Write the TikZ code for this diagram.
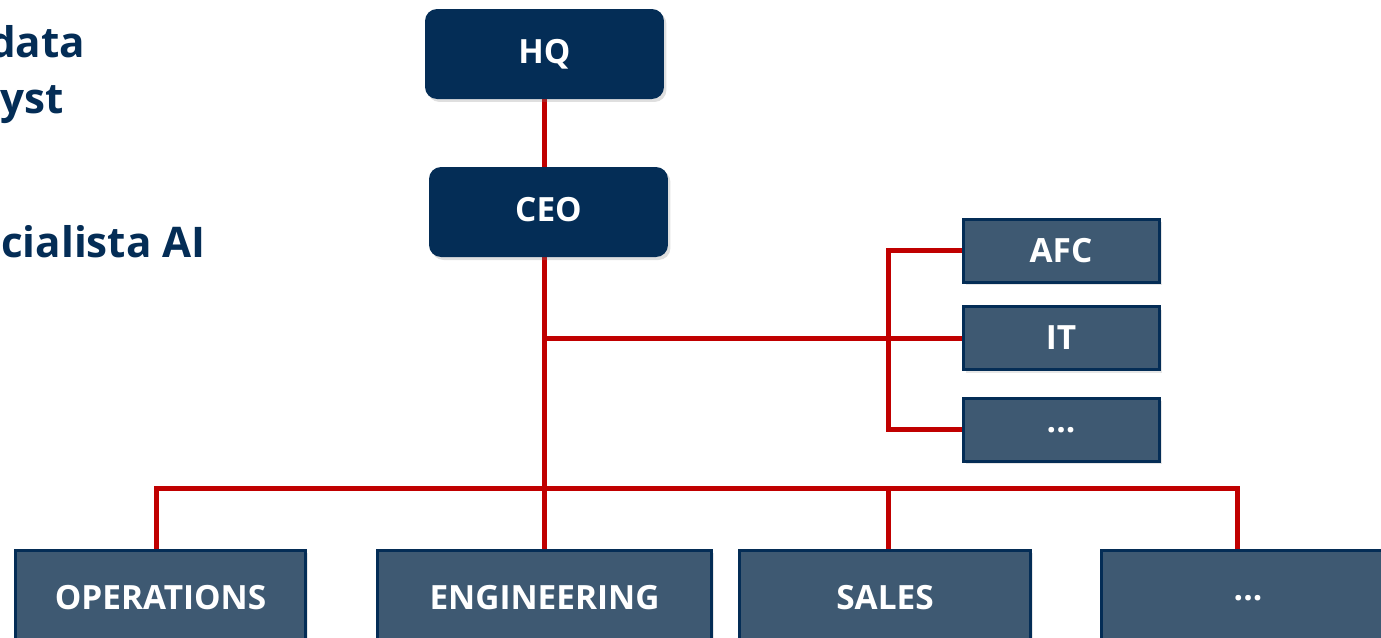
\documentclass[tikz,border=0pt]{standalone}
\usepackage{fontspec}
\setmainfont{Open Sans}
\usetikzlibrary{shadows,backgrounds}

\definecolor{navy}{RGB}{4,45,86}
\definecolor{slate}{RGB}{62,89,114}
\definecolor{linkred}{RGB}{192,0,0}

\begin{document}
\begin{tikzpicture}[x=0.02cm,y=-0.02cm,
  headbox/.style={rounded corners=0.24cm, fill=navy, text=white,
    minimum width=4.78cm, minimum height=1.8cm, text depth=0.1cm,
    font=\fontsize{19}{22}\selectfont\bfseries,
    drop shadow={shadow xshift=0.05cm, shadow yshift=-0.06cm, opacity=0.25}},
  unitbox/.style={fill=slate, draw=navy, line width=0.06cm, text=white,
    minimum width=3.92cm, minimum height=1.26cm,
    font=\fontsize{19}{22}\selectfont\bfseries,
    drop shadow={shadow xshift=0.05cm, shadow yshift=-0.06cm, opacity=0.2}},
  deptbox/.style={unitbox, minimum height=1.9cm},
  link/.style={draw=linkred, line width=0.1cm},
  side/.style={text=navy, anchor=base west, font=\fontsize{24}{28}\selectfont\bfseries}]
\clip (0,0) rectangle (1381,637);
\useasboundingbox (0,0) rectangle (1381,637);

% text cut off at the left edge
\node[side] (t1) at (-17,57) {data};
\node[side] (t2) at (-6,113) {yst};
\node[side] (t3) at (-5,257) {cialista AI};

% top of the chart
\node[headbox] (hq) at (544.5,54) {HQ};
\node[headbox] (ceo) at (548.5,212) {CEO};

% staff units
\node[unitbox] (afc) at (1061,250.5) {AFC};
\node[unitbox] (it) at (1061,338) {IT};
\node[unitbox, text depth=-0.12cm] (staff) at (1061,429.5) {...};

% departments
\node[deptbox, minimum width=5.82cm] (ops) at (160.5,597.5) {OPERATIONS};
\node[deptbox, minimum width=6.7cm] (eng) at (544.5,597.5) {ENGINEERING};
\node[deptbox, minimum width=5.84cm] (sales) at (885,597.5) {SALES};
\node[deptbox, minimum width=5.88cm, text depth=-0.1cm] (more) at (1248,597.5) {...};

\coordinate (side) at (888,338);
\coordinate (bus) at (544,488);

\begin{scope}[on background layer]
\draw[link] (hq.south) -- (hq.south |- eng.north);
\draw[link] (hq.south |- it.west) -- (it.west);
\draw[link] (afc.west) -| (side) |- (staff.west);
\draw[link] ([xshift=-0.09cm]ops.north) |- (bus) -| ([xshift=-0.22cm]more.north);
\draw[link] ([xshift=0.06cm]sales.north) -- ([xshift=0.06cm]sales.north |- bus);
\end{scope}
\end{tikzpicture}
\end{document}
